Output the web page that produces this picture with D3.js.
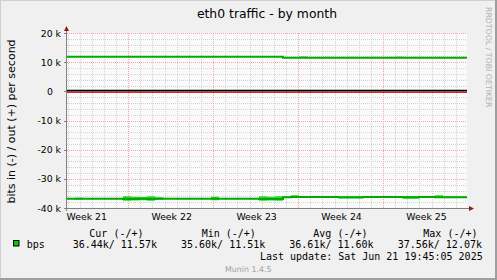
<!DOCTYPE html>
<html><head><meta charset="utf-8">
<script src="https://cdn.jsdelivr.net/npm/d3@7/dist/d3.min.js"></script>
<style>html,body{margin:0;padding:0;background:#f0f0f0;}svg{display:block;}</style>
</head><body>
<script>
// ---- data (values in kbit/s) ----
const title = "eth0 traffic - by month";
const yLabel = "bits in (-) / out (+) per second";
const yTicks = [20, 10, 0, -10, -20, -30, -40];
const yTickLabels = ["20 k", "10 k", "0", "-10 k", "-20 k", "-30 k", "-40 k"];
const weekLabelFormat = "Week %V";
const domainStart = new Date(2025, 4, 20, 23, 0);
const domainEnd = new Date(2025, 5, 22, 22, 0);
// 50 evenly spaced samples across the month
const inAvg = [-36.8,-36.8,-36.8,-36.8,-36.8,-36.8,-36.8,-36.9,-36.9,-36.8,
               -36.9,-36.8,-36.8,-36.8,-36.8,-36.8,-36.8,-36.8,-36.8,-36.8,
               -36.8,-36.8,-36.8,-36.8,-36.9,-36.9,-36.9,-36.3,-36.2,-36.2,
               -36.2,-36.2,-36.2,-36.2,-36.3,-36.3,-36.3,-36.2,-36.2,-36.2,
               -36.2,-36.2,-36.3,-36.3,-36.2,-36.2,-36.3,-36.3,-36.3,-36.3];
const inLow = [-36.95,-37.1,-36.95,-36.95,-36.95,-36.95,-36.95,-37.5,-37.4,-37.3,
               -37.5,-37.2,-36.95,-36.95,-36.95,-36.95,-36.95,-36.95,-37.3,-36.95,
               -36.95,-36.95,-36.95,-36.95,-37.5,-37.4,-37.5,-36.45,-36.45,-36.45,
               -36.45,-36.45,-36.45,-36.45,-36.7,-36.7,-36.7,-36.45,-36.45,-36.45,
               -36.45,-36.45,-36.8,-36.8,-36.45,-36.45,-36.6,-36.6,-36.6,-36.6];
const inHigh = [-36.65,-36.5,-36.65,-36.65,-36.65,-36.65,-36.65,-36.0,-36.1,-36.2,
                -36.0,-36.3,-36.65,-36.65,-36.65,-36.65,-36.65,-36.65,-36.1,-36.65,
                -36.65,-36.65,-36.65,-36.65,-36.0,-36.1,-36.0,-36.05,-35.6,-36.05,
                -36.05,-36.05,-36.05,-36.05,-36.05,-36.05,-36.05,-36.05,-36.05,-36.05,
                -36.05,-36.05,-35.9,-35.9,-36.05,-36.05,-35.6,-36.05,-36.05,-36.05];
const outAvg = [11.86,11.86,11.86,11.86,11.86,11.86,11.86,11.86,11.86,11.86,
                11.86,11.86,11.86,11.86,11.86,11.86,11.86,11.86,11.86,11.86,
                11.86,11.86,11.86,11.86,11.86,11.86,11.86,11.53,11.53,11.53,
                11.53,11.53,11.53,11.53,11.53,11.53,11.53,11.53,11.53,11.53,
                11.53,11.53,11.53,11.53,11.53,11.53,11.53,11.53,11.53,11.53];
const outLow = [11.76,11.76,11.76,11.76,11.76,11.76,11.76,11.76,11.76,11.76,
                11.76,11.76,11.76,11.76,11.76,11.76,11.76,11.76,11.76,11.76,
                11.76,11.76,11.76,11.76,11.76,11.76,11.76,11.43,11.43,11.43,
                11.43,11.43,11.43,11.43,11.43,11.43,11.43,11.43,11.43,11.43,
                11.43,11.43,11.43,11.43,11.43,11.43,11.43,11.43,11.43,11.43];
const outHigh = [11.96,11.96,11.96,11.96,11.96,11.96,11.96,11.96,11.96,11.96,
                 11.96,11.96,11.96,11.96,11.96,11.96,11.96,11.96,11.96,11.96,
                 11.96,11.96,11.96,11.96,11.96,11.96,11.96,11.63,11.63,11.95,
                 11.63,11.63,11.63,11.63,11.63,11.63,11.63,11.63,11.63,11.63,
                 11.63,11.85,11.63,11.63,11.63,11.63,11.63,11.63,11.63,11.63];
const legendName = "bps";
const legendHeaders = ["Cur (-/+)", "Min (-/+)", "Avg (-/+)", "Max (-/+)"];
const legendValues = ["36.44k/ 11.57k", "35.60k/ 11.51k", "36.61k/ 11.60k", "37.56k/ 12.07k"];
const lastUpdate = "Last update: Sat Jun 21 19:45:05 2025";
const footer = "Munin 1.4.5";
const watermark = "RRDTOOL / TOBI OETIKER";

// ---- layout ----
const W = 497, H = 280;
const L = 67, R = 467, T = 33, B = 208;
const sans = "'DejaVu Sans', sans-serif", mono = "'DejaVu Sans Mono', monospace";

const svg = d3.select("body").append("svg").attr("width", W).attr("height", H);
svg.append("rect").attr("width", W).attr("height", H).attr("fill", "#f0f0f0");
// frame shading
svg.append("rect").attr("x", 0).attr("y", 0).attr("width", W).attr("height", 1).attr("fill", "#cfcfcf");
svg.append("rect").attr("x", 0).attr("y", 0).attr("width", 1).attr("height", H).attr("fill", "#cfcfcf");
svg.append("rect").attr("x", W - 2).attr("y", 0).attr("width", 2).attr("height", H).attr("fill", "#9e9e9e");
svg.append("rect").attr("x", 0).attr("y", H - 2).attr("width", W).attr("height", 2).attr("fill", "#9e9e9e");

const x = d3.scaleTime().domain([domainStart, domainEnd]).range([L, R]);
const y = d3.scaleLinear().domain([-40, 20]).range([B, T]);

svg.append("rect").attr("x", L).attr("y", T).attr("width", R - L).attr("height", B - T).attr("fill", "#fafafa");

const g = svg.append("g");
// minor horizontal grid
const yMinor = d3.range(-40, 20.01, 2).filter(v => v % 10 !== 0);
g.selectAll(".hmin").data(yMinor).join("line")
  .attr("x1", L).attr("x2", R).attr("y1", d => Math.round(y(d)) + 0.5).attr("y2", d => Math.round(y(d)) + 0.5)
  .attr("stroke", "#d4d4d4").attr("stroke-dasharray", "1,1");
// minor vertical grid (days)
const days = d3.timeDay.range(d3.timeDay.ceil(domainStart), domainEnd).filter(d => d.getDay() !== 1);
g.selectAll(".vmin").data(days).join("line")
  .attr("x1", d => Math.round(x(d)) + 0.5).attr("x2", d => Math.round(x(d)) + 0.5).attr("y1", T).attr("y2", B)
  .attr("stroke", "#d4d4d4").attr("stroke-dasharray", "1,1");
// major horizontal grid
g.selectAll(".hmaj").data(yTicks).join("line")
  .attr("x1", L).attr("x2", R).attr("y1", d => Math.round(y(d)) + 0.5).attr("y2", d => Math.round(y(d)) + 0.5)
  .attr("stroke", "#f0a8a8").attr("stroke-dasharray", "1,1");
// major vertical grid (weeks)
const weeks = d3.timeMonday.range(domainStart, domainEnd);
g.selectAll(".vmaj").data(weeks).join("line")
  .attr("x1", d => Math.round(x(d)) + 0.5).attr("x2", d => Math.round(x(d)) + 0.5).attr("y1", T).attr("y2", B)
  .attr("stroke", "#f0a8a8").attr("stroke-dasharray", "1,1");

// zero line
svg.append("line").attr("x1", L).attr("x2", R).attr("y1", y(0) - 0.7).attr("y2", y(0) - 0.7)
  .attr("stroke", "#000").attr("stroke-width", 1.6);
svg.append("line").attr("x1", L).attr("x2", R).attr("y1", y(0) + 1).attr("y2", y(0) + 1)
  .attr("stroke", "#cc0000").attr("stroke-width", 1);

// series
const n = inAvg.length;
const step = (domainEnd - domainStart) / n;
const times = d3.range(n + 1).map(i => new Date(+domainStart + i * step));
function ext(a) { return a.concat([a[a.length - 1]]); }
function drawSeries(avg, lo, hi) {
  const a = ext(avg), l = ext(lo), h = ext(hi);
  const area = d3.area().curve(d3.curveStepAfter)
    .x((d, i) => x(times[i])).y0((d, i) => y(l[i])).y1((d, i) => y(h[i]));
  svg.append("path").attr("d", area(a)).attr("fill", "#22dd22");
  const line = d3.line().curve(d3.curveStepAfter).x((d, i) => x(times[i])).y(d => y(d));
  svg.append("path").attr("d", line(a)).attr("fill", "none").attr("stroke", "#00aa00").attr("stroke-width", 2);
}
drawSeries(inAvg, inLow, inHigh);
drawSeries(outAvg, outLow, outHigh);

// axes
const axisColor = "#808080";
svg.append("line").attr("x1", L - 3).attr("x2", R + 3).attr("y1", B + 0.5).attr("y2", B + 0.5).attr("stroke", axisColor);
svg.append("line").attr("x1", L - 0.5).attr("x2", L - 0.5).attr("y1", B + 3).attr("y2", T - 3).attr("stroke", axisColor);
svg.append("path").attr("d", `M${R + 2},${B - 2} L${R + 7},${B + 0.5} L${R + 2},${B + 3} Z`).attr("fill", "#8b1a1a");
svg.append("path").attr("d", `M${L - 3},${T - 2} L${L - 0.5},${T - 7} L${L + 2},${T - 2} Z`).attr("fill", "#8b1a1a");
// y ticks
svg.selectAll(".ytk").data(yTicks).join("line")
  .attr("x1", L - 3).attr("x2", L).attr("y1", d => Math.round(y(d)) + 0.5).attr("y2", d => Math.round(y(d)) + 0.5)
  .attr("stroke", axisColor);
svg.selectAll(".ytl").data(yTicks).join("text")
  .attr("x", (d, i) => yTickLabels[i].indexOf("k") < 0 ? 53 : 61)
  .attr("y", d => y(d) + 3.5)
  .attr("text-anchor", "end").attr("font-family", sans).attr("font-size", 9.33).attr("fill", "#000")
  .text((d, i) => yTickLabels[i]);
// x labels
const fmt = d3.timeFormat(weekLabelFormat);
const weekStarts = d3.timeMonday.range(d3.timeMonday.floor(domainStart), domainEnd);
const centers = weekStarts.map(d => ({ d, c: new Date(+d + 3.5 * 864e5) })).filter(o => o.c >= domainStart && o.c <= domainEnd);
svg.selectAll(".xtl").data(centers).join("text")
  .attr("x", o => x(o.c) + 1).attr("y", 219.5)
  .attr("text-anchor", "middle").attr("font-family", sans).attr("font-size", 9.33).attr("fill", "#000")
  .text(o => fmt(o.d));

// title & labels
svg.append("text").attr("x", (L + R) / 2).attr("y", 18).attr("text-anchor", "middle")
  .attr("font-family", sans).attr("font-size", 12.4).attr("fill", "#000").text(title);
svg.append("text").attr("transform", `translate(14.5,${(T + B) / 2 + 1}) rotate(-90)`).attr("text-anchor", "middle")
  .attr("font-family", sans).attr("font-size", 11).attr("fill", "#000").text(yLabel);
svg.append("text").attr("transform", `translate(486,7) rotate(90)`).attr("text-anchor", "start")
  .attr("font-family", sans).attr("font-size", 7.8).attr("fill", "#b0b0b0").text(watermark);

// legend
const legHeaderX = [89.3, 201.7, 313.3, 423.3];
const legValueX = [72.7, 181, 289.3, 397.7];
svg.selectAll(".lh").data(legendHeaders).join("text")
  .attr("x", (d, i) => legHeaderX[i]).attr("y", 237.3)
  .attr("font-family", mono).attr("font-size", 10).attr("fill", "#000").style("white-space", "pre").text(d => d);
svg.selectAll(".lv").data(legendValues).join("text")
  .attr("x", (d, i) => legValueX[i]).attr("y", 248.3)
  .attr("font-family", mono).attr("font-size", 10).attr("fill", "#000").style("white-space", "pre").text(d => d);
svg.append("rect").attr("x", 13.5).attr("y", 240.5).attr("width", 5.5).attr("height", 5.5)
  .attr("fill", "#00cc00").attr("stroke", "#000").attr("stroke-width", 1);
svg.append("text").attr("x", 26.7).attr("y", 248.3).attr("font-family", mono).attr("font-size", 10).attr("fill", "#000").text(legendName);
svg.append("text").attr("x", 482.7).attr("y", 260).attr("text-anchor", "end")
  .attr("font-family", mono).attr("font-size", 10).attr("fill", "#000").style("white-space", "pre").text(lastUpdate);
svg.append("text").attr("x", 248.3).attr("y", 271.7).attr("text-anchor", "middle")
  .attr("font-family", sans).attr("font-size", 7.9).attr("fill", "#a0a0a0").text(footer);
</script>
</body></html>
